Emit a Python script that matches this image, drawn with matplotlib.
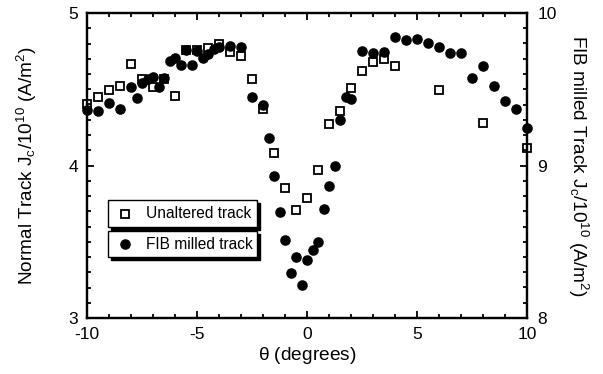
import matplotlib
matplotlib.use("Agg")
import matplotlib.pyplot as plt
from matplotlib.patches import Rectangle
from matplotlib.ticker import MultipleLocator

plt.rcParams["font.family"] = ["Liberation Sans", "DejaVu Sans"]
plt.rcParams["mathtext.fontset"] = "custom"
plt.rcParams["mathtext.rm"] = "Liberation Sans"
plt.rcParams["mathtext.it"] = "Liberation Sans"
plt.rcParams["axes.unicode_minus"] = False

# Unaltered track (left axis)
theta_unaltered = [-10, -9.5, -9, -8.5, -8, -7.5, -7, -6.5, -6, -5.5, -5, -4.5,
                   -4, -3.5, -3, -2.5, -2, -1.5, -1, -0.5, 0, 0.5, 1, 1.5, 2,
                   2.5, 3, 3.5, 4, 6, 8, 10]
jc_unaltered = [4.40, 4.45, 4.495, 4.52, 4.665, 4.57, 4.515, 4.57, 4.455, 4.76,
                4.755, 4.77, 4.80, 4.745, 4.715, 4.565, 4.37, 4.085, 3.855,
                3.71, 3.79, 3.97, 4.27, 4.36, 4.51, 4.62, 4.68, 4.70, 4.65,
                4.495, 4.28, 4.115]

# FIB milled track (right axis)
theta_fib = [-10, -9.5, -9, -8.5, -8, -7.75, -7.5, -7.25, -7, -6.75, -6.5,
             -6.25, -6, -5.75, -5.5, -5.25, -5, -4.75, -4.5, -4.25, -4, -3.5,
             -3, -2.5, -2, -1.75, -1.5, -1.25, -1, -0.75, -0.5, -0.25, 0, 0.25,
             0.5, 0.75, 1, 1.25, 1.5, 1.75, 2, 2.5, 3, 3.5, 4, 4.5, 5, 5.5, 6,
             6.5, 7, 7.5, 8, 8.5, 9, 9.5, 10]
jc_fib = [9.364, 9.357, 9.412, 9.370, 9.513, 9.441, 9.540, 9.570, 9.578, 9.513,
          9.575, 9.687, 9.703, 9.659, 9.760, 9.659, 9.750, 9.703, 9.731, 9.762,
          9.777, 9.786, 9.775, 9.451, 9.400, 9.182, 8.931, 8.697, 8.511, 8.297,
          8.402, 8.216, 8.380, 8.446, 8.496, 8.715, 8.866, 8.999, 9.298, 9.451,
          9.438, 9.753, 9.740, 9.747, 9.843, 9.823, 9.827, 9.800, 9.775, 9.736,
          9.740, 9.572, 9.654, 9.521, 9.423, 9.370, 9.246]

x_ticks = [-10, -5, 0, 5, 10]
left_ticks = [3, 4, 5]
right_ticks = [8, 9, 10]

fig = plt.figure(figsize=(6.03, 3.74), dpi=100)
ax = fig.add_axes([87 / 603, 1 - 318 / 374, 440 / 603, 305 / 374])
ax2 = ax.twinx()

ax.plot(theta_unaltered, jc_unaltered, linestyle="none", marker="s",
        markersize=6.3, markerfacecolor="none", markeredgecolor="black",
        markeredgewidth=1.3, clip_on=False, zorder=3)
ax2.plot(theta_fib, jc_fib, linestyle="none", marker="o", markersize=6.6,
         color="black", clip_on=False, zorder=3)

ax.set_xlim(-10, 10)
ax.set_ylim(3, 5)
ax2.set_ylim(8, 10)
ax.set_xticks(x_ticks)
ax.set_yticks(left_ticks)
ax2.set_yticks(right_ticks)
ax.xaxis.set_minor_locator(MultipleLocator(1))
ax.yaxis.set_minor_locator(MultipleLocator(0.1))
ax2.yaxis.set_minor_locator(MultipleLocator(0.1))

for a in (ax, ax2):
    for sp in a.spines.values():
        sp.set_linewidth(1.6)
ax.tick_params(which="both", direction="in", top=True, right=False,
               labelsize=12.5, width=1.3)
ax.tick_params(axis="x", pad=6.5)
ax.tick_params(axis="y", pad=6.5)
ax.tick_params(which="major", length=5)
ax.tick_params(which="minor", length=3)
ax2.tick_params(which="both", direction="in", labelsize=12.5, width=1.3,
                pad=7.5)
ax2.tick_params(which="major", length=5)
ax2.tick_params(which="minor", length=3)

ax.set_xlabel(r"$\theta$ (degrees)", fontsize=13.8, labelpad=2)
ax.set_ylabel(r"Normal Track J$_{\rm c}$/10$^{10}$ (A/m$^{2}$)",
              fontsize=13.7, labelpad=21)
ax2.set_ylabel(r"FIB milled Track J$_{\rm c}$/10$^{10}$ (A/m$^{2}$)",
               fontsize=13.7, rotation=270, labelpad=24)

# Legend drawn as two separate shadowed boxes
entries = [("s", "Unaltered track", 0.298, 0.387),
           ("o", "FIB milled track", 0.200, 0.285)]
x0, x1 = 0.048, 0.386
dx, dy = 0.0068, 0.0098
for marker, label, yb, yt in entries:
    ax2.add_patch(Rectangle((x0 + dx, yb - dy), x1 - x0, yt - yb,
                            transform=ax2.transAxes, facecolor="black",
                            edgecolor="black", zorder=5))
    ax2.add_patch(Rectangle((x0, yb), x1 - x0, yt - yb,
                            transform=ax2.transAxes, facecolor="white",
                            edgecolor="black", linewidth=1.0, zorder=6))
    yc = (yb + yt) / 2
    if marker == "s":
        ax2.plot([0.087], [yc], marker="s", markersize=6.3,
                 markerfacecolor="none", markeredgecolor="black",
                 markeredgewidth=1.3, transform=ax2.transAxes, zorder=7,
                 clip_on=False)
    else:
        ax2.plot([0.087], [yc], marker="o", markersize=6.6, color="black",
                 transform=ax2.transAxes, zorder=7, clip_on=False)
    ax2.text(0.133, yc, label, transform=ax2.transAxes, fontsize=11.2,
             va="center", ha="left", zorder=7)

fig.savefig("out.png", dpi=100)
